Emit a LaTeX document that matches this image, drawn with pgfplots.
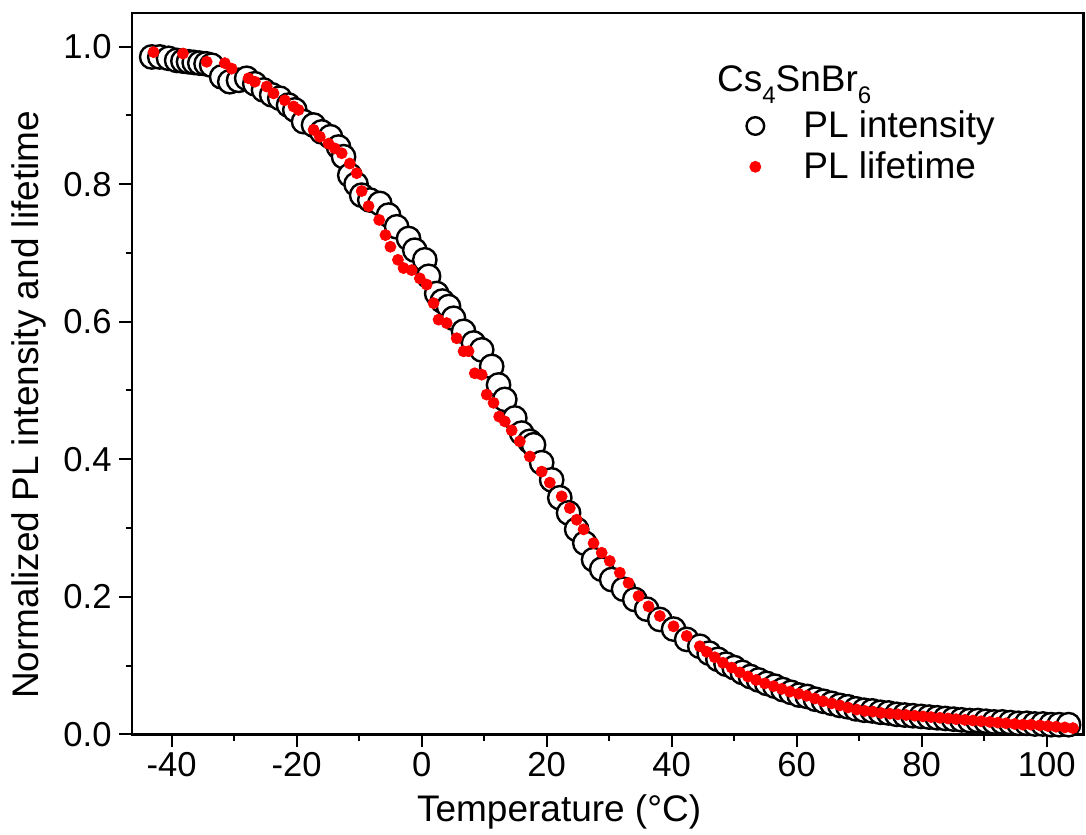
\documentclass[border=0pt]{standalone}
\usepackage{fontspec}
\setmainfont{Liberation Sans}
\usepackage{pgfplots}
\pgfplotsset{compat=1.18}
\begin{document}
\begin{tikzpicture}
\begin{axis}[
  scale only axis,
  width=475.65pt, height=360.5pt,
  xmin=-46.35, xmax=105.86, ymin=0, ymax=1.0485,
  axis line style={line width=1.2pt},
  tick align=outside,
  xtick pos=bottom, ytick pos=left,
  xtick={-40,-20,0,20,40,60,80,100}, minor x tick num=1,
  ytick={0,0.2,0.4,0.6,0.8,1.0}, minor y tick num=1,
  major tick length=6.5pt, minor tick length=3.2pt,
  every tick/.style={line width=1pt, black},
  tick label style={font=\fontsize{17.3}{20}\selectfont},
  /pgf/number format/assume math mode=true,
  yticklabel style={/pgf/number format/fixed, /pgf/number format/fixed zerofill, /pgf/number format/precision=1, anchor=east, inner sep=0pt, xshift=-3.5pt},
  xticklabel style={anchor=north, inner sep=0pt, yshift=-2.25pt},
  xlabel={Temperature (°C)},
  xlabel style={at={([yshift=-43.6pt]rel axis cs:0.449,0)}, anchor=base, font=\fontsize{18.5}{22}\selectfont},
  ylabel={Normalized PL intensity and lifetime},
  ylabel style={at={([xshift=-46.85pt]rel axis cs:0,0.457)}, anchor=base, font=\fontsize{18.5}{22}\selectfont},
  legend style={at={(rel axis cs:0.638,0.876)}, anchor=north west, draw=none, fill=none,
    font=\fontsize{18.5}{22}\selectfont, row sep=1.5pt},
  legend cell align=left,
  legend image code/.code={\path[draw=none, fill=none] (-5pt,-1pt) rectangle (22pt,1pt); \draw[#1] plot coordinates {(0pt,0pt)};},
  clip=false,
]
\addplot[only marks, mark=*, mark size=5.85pt, mark options={fill=white, draw=black, line width=1.2pt},
  legend image post style={mark size=4.4pt}] table {
-43.2 0.985
-41.9 0.985
-40.5 0.983
-39.2 0.980
-38.2 0.979
-37.3 0.978
-36.4 0.977
-35.5 0.976
-34.5 0.975
-33.6 0.973
-32.0 0.956
-30.7 0.949
-29.3 0.951
-28.0 0.954
-26.7 0.946
-25.3 0.937
-24.0 0.930
-22.7 0.925
-21.3 0.915
-20.3 0.908
-18.9 0.891
-17.3 0.886
-16.0 0.876
-14.6 0.869
-13.3 0.854
-12.5 0.840
-11.5 0.813
-10.5 0.800
-9.6 0.784
-8.3 0.777
-6.7 0.772
-5.3 0.755
-4.0 0.738
-2.1 0.721
-1.1 0.704
0.5 0.690
1.1 0.666
2.4 0.641
3.3 0.630
4.3 0.622
5.1 0.605
6.7 0.586
8.3 0.569
9.6 0.559
11.2 0.535
12.3 0.508
13.3 0.487
14.9 0.460
16.0 0.438
17.3 0.426
17.9 0.421
19.2 0.395
20.8 0.370
22.1 0.344
23.5 0.322
24.8 0.298
26.1 0.278
27.5 0.254
28.8 0.240
30.4 0.225
32.3 0.211
34.1 0.196
36.0 0.182
38.1 0.167
40.3 0.153
42.4 0.138
44.5 0.128
46.0 0.118
47.4 0.109
48.7 0.102
50.0 0.097
51.3 0.090
52.6 0.084
53.9 0.079
55.2 0.074
56.5 0.070
57.8 0.065
59.1 0.061
60.4 0.057
61.7 0.055
63.0 0.051
64.3 0.048
65.6 0.045
66.9 0.042
68.2 0.040
69.5 0.037
70.8 0.035
72.1 0.034
73.4 0.032
74.7 0.031
76.0 0.029
77.3 0.028
78.6 0.027
79.9 0.026
81.2 0.025
82.5 0.024
83.8 0.023
85.1 0.022
86.4 0.021
87.7 0.020
89.0 0.020
90.3 0.019
91.6 0.018
92.9 0.018
94.2 0.017
95.5 0.016
96.8 0.016
98.1 0.015
99.4 0.015
100.7 0.014
102.0 0.014
103.5 0.014
};
\addlegendentry{PL intensity}
\addplot[only marks, mark=*, mark size=2.75pt, color=red, mark options={fill=red, draw=red}] table {
-42.9 0.992
-38.2 0.990
-34.4 0.978
-31.5 0.976
-30.4 0.968
-27.7 0.954
-26.7 0.949
-24.8 0.942
-23.7 0.932
-21.9 0.922
-20.5 0.913
-19.7 0.908
-17.3 0.879
-16.3 0.869
-14.9 0.859
-13.9 0.852
-12.8 0.845
-11.5 0.830
-10.4 0.816
-9.6 0.790
-8.5 0.768
-6.8 0.748
-5.8 0.726
-5.0 0.709
-3.8 0.690
-2.9 0.678
-1.6 0.675
-0.3 0.663
0.8 0.654
1.9 0.627
2.7 0.603
4.0 0.598
5.6 0.576
6.7 0.557
7.5 0.557
8.5 0.525
9.6 0.523
10.4 0.494
11.5 0.482
12.4 0.462
13.3 0.455
14.4 0.442
15.7 0.426
17.3 0.404
19.2 0.382
20.5 0.366
22.4 0.346
23.7 0.329
24.8 0.312
25.9 0.298
27.5 0.278
28.8 0.264
30.1 0.252
31.7 0.235
33.1 0.220
34.7 0.201
36.3 0.186
38.1 0.172
40.3 0.157
42.4 0.143
44.5 0.128
45.6 0.120
46.9 0.112
48.2 0.104
49.6 0.097
50.9 0.090
52.2 0.084
53.5 0.079
54.9 0.074
56.3 0.070
57.6 0.066
58.9 0.062
60.3 0.059
61.6 0.056
62.9 0.052
64.2 0.048
65.6 0.045
66.9 0.042
68.2 0.039
69.6 0.036
70.9 0.034
72.2 0.033
73.5 0.031
74.9 0.030
76.2 0.029
77.5 0.028
78.9 0.027
80.2 0.026
81.5 0.025
82.9 0.024
84.2 0.023
85.5 0.022
86.9 0.021
88.2 0.020
89.5 0.019
90.9 0.018
92.2 0.017
93.5 0.016
94.9 0.015
96.2 0.014
97.5 0.014
98.9 0.013
100.2 0.012
101.5 0.011
102.9 0.010
104.2 0.009
};
\addlegendentry{PL lifetime}
\node[anchor=base west, inner sep=0pt, font=\fontsize{18.5}{22}\selectfont] at (rel axis cs:0.6146,0.8916) {Cs\raisebox{-6pt}{\fontsize{12}{14}\selectfont 4}SnBr\raisebox{-6pt}{\fontsize{12}{14}\selectfont 6}};
\coordinate (sw) at (rel axis cs:0,0);
\coordinate (ne) at (rel axis cs:1,1);
\end{axis}
\pgfresetboundingbox
\path[use as bounding box] ([shift={(-66pt,-50.25pt)}]sw) rectangle ([shift={(1.35pt,6.65pt)}]ne);
\end{tikzpicture}
\end{document}
